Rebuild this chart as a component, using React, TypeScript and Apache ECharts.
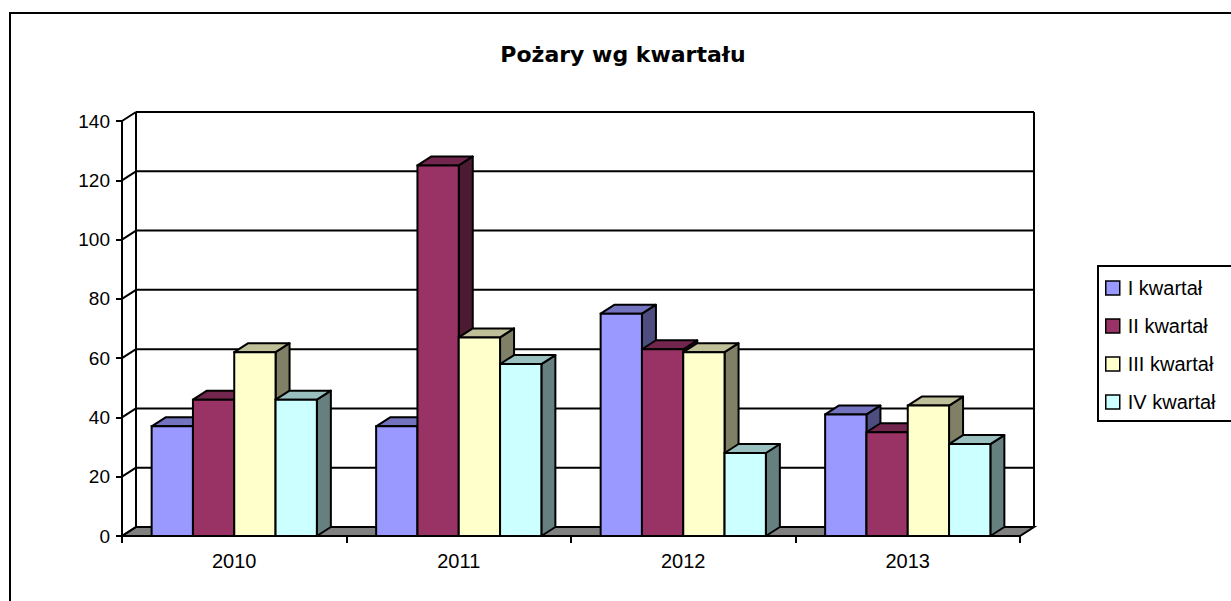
import React, { useEffect, useRef } from "react";
import * as echarts from "echarts";

const categories = ["2010", "2011", "2012", "2013"];
const seriesNames = ["I kwartał", "II kwartał", "III kwartał", "IV kwartał"];
const q1 = [37, 37, 75, 41];
const q2 = [46, 125, 63, 35];
const q3 = [62, 67, 62, 44];
const q4 = [46, 58, 28, 31];
const seriesValues = [q1, q2, q3, q4];
const yTicks = [0, 20, 40, 60, 80, 100, 120, 140];

const frontColors = ["#9999FF", "#993366", "#FFFFCC", "#CCFFFF"];
const topColors = ["#7373BF", "#73264D", "#BFBF99", "#99BFBF"];
const sideColors = ["#4D4D80", "#4D1A33", "#808066", "#668080"];

const DX = 14;
const DY = -9;

export default function App() {
  const ref = useRef<HTMLDivElement>(null);
  useEffect(() => {
    if (!ref.current) return;
    const chart = echarts.init(ref.current, undefined, { renderer: "svg" });

    const wallSeries: any = {
      type: "custom",
      name: "wall",
      coordinateSystem: "cartesian2d",
      silent: true,
      data: [[0, 0]],
      z: 1,
      renderItem: (params: any, api: any) => {
        const cs = params.coordSys;
        const x0 = cs.x;
        const x1 = cs.x + cs.width;
        const children: any[] = [];
        const yb = api.coord([0, 0])[1];
        children.push({
          type: "polygon",
          shape: {
            points: [
              [x0, yb],
              [x1, yb],
              [x1 + DX, yb + DY],
              [x0 + DX, yb + DY],
            ],
          },
          style: { fill: "#808080", stroke: "#000", lineWidth: 2 },
        });
        const yTop = api.coord([0, yTicks[yTicks.length - 1]])[1];
        yTicks.forEach((v) => {
          const y = api.coord([0, v])[1];
          children.push({
            type: "line",
            shape: { x1: x0 + DX, y1: y + DY, x2: x1 + DX, y2: y + DY },
            style: { stroke: "#000", lineWidth: 2 },
          });
          children.push({
            type: "line",
            shape: { x1: x0, y1: y, x2: x0 + DX, y2: y + DY },
            style: { stroke: "#000", lineWidth: 2 },
          });
        });
        children.push({
          type: "line",
          shape: { x1: x0 + DX, y1: yTop + DY, x2: x0 + DX, y2: yb + DY },
          style: { stroke: "#000", lineWidth: 2 },
        });
        children.push({
          type: "line",
          shape: { x1: x1 + DX, y1: yTop + DY, x2: x1 + DX, y2: yb + DY },
          style: { stroke: "#000", lineWidth: 2 },
        });
        return { type: "group", children };
      },
    };

    const barSeries = seriesValues.map((vals, s) => ({
      type: "custom",
      name: seriesNames[s],
      coordinateSystem: "cartesian2d",
      z: 2 + s,
      itemStyle: { color: frontColors[s], borderColor: "#000", borderWidth: 1 },
      data: vals.map((v, i) => [i, v]),
      renderItem: (params: any, api: any) => {
        const cat = api.value(0);
        const val = api.value(1);
        const band = api.size([1, 0])[0];
        const bw = band * 0.184;
        const [cx, y0] = api.coord([cat, 0]);
        const y1 = api.coord([cat, val])[1];
        const xl = cx - 2 * bw + s * bw;
        const xr = xl + bw;
        return {
          type: "group",
          children: [
            {
              type: "polygon",
              shape: {
                points: [
                  [xr, y1],
                  [xr + DX, y1 + DY],
                  [xr + DX, y0 + DY],
                  [xr, y0],
                ],
              },
              style: { fill: sideColors[s], stroke: "#000", lineWidth: 2, lineJoin: "round" },
            },
            {
              type: "polygon",
              shape: {
                points: [
                  [xl, y1],
                  [xr, y1],
                  [xr + DX, y1 + DY],
                  [xl + DX, y1 + DY],
                ],
              },
              style: { fill: topColors[s], stroke: "#000", lineWidth: 2, lineJoin: "round" },
            },
            {
              type: "rect",
              shape: { x: xl, y: y1, width: bw, height: y0 - y1 },
              style: { fill: frontColors[s], stroke: "#000", lineWidth: 2 },
            },
          ],
        };
      },
    }));

    chart.setOption({
      animation: false,
      backgroundColor: "#fff",
      grid: { left: 122, right: 211, top: 121, bottom: 65, containLabel: false },
      xAxis: {
        type: "category",
        data: categories,
        axisLine: { lineStyle: { color: "#000", width: 2 } },
        axisTick: { show: true, length: 7, lineStyle: { color: "#000", width: 2 } },
        axisLabel: {
          color: "#000",
          fontSize: 20,
          fontFamily: "Liberation Sans, Arial, sans-serif",
          margin: 15,
        },
        splitLine: { show: false },
      },
      yAxis: {
        type: "value",
        min: 0,
        max: 140,
        interval: 20,
        axisLine: { show: true, lineStyle: { color: "#000", width: 2 } },
        axisTick: { show: true, length: 6, lineStyle: { color: "#000", width: 2 } },
        axisLabel: {
          color: "#000",
          fontSize: 19,
          fontFamily: "Liberation Sans, Arial, sans-serif",
          margin: 12,
        },
        splitLine: { show: false },
      },
      legend: {
        data: seriesNames,
        orient: "vertical",
        left: 1098,
        top: 266,
        padding: [12, 60, 9, 7],
        itemGap: 18,
        itemWidth: 14,
        itemHeight: 14,
        icon: "rect",
        borderColor: "#000",
        borderWidth: 2,
        selectedMode: false,
        itemStyle: { borderColor: "#000", borderWidth: 1.5 },
        textStyle: {
          color: "#000",
          fontSize: 20,
          fontFamily: "Liberation Sans, Arial, sans-serif",
          padding: [0, 0, 0, 3],
        },
      },
      graphic: [
        {
          type: "rect",
          shape: { x: 10, y: 13, width: 1400, height: 800 },
          style: { fill: "none", stroke: "#000", lineWidth: 2 },
          silent: true,
          z: -10,
        },
        {
          type: "text",
          x: 623,
          y: 54,
          style: {
            text: "Pożary wg kwartału",
            font: "bold 22px 'DejaVu Sans', sans-serif",
            fill: "#000",
            textAlign: "center",
            textVerticalAlign: "middle",
          },
        },
      ],
      series: [wallSeries, ...barSeries],
    });
    return () => chart.dispose();
  }, []);

  return (
    <div
      ref={ref}
      style={{ position: "absolute", left: 0, top: 0, width: 1231, height: 601, background: "#fff" }}
    />
  );
}
